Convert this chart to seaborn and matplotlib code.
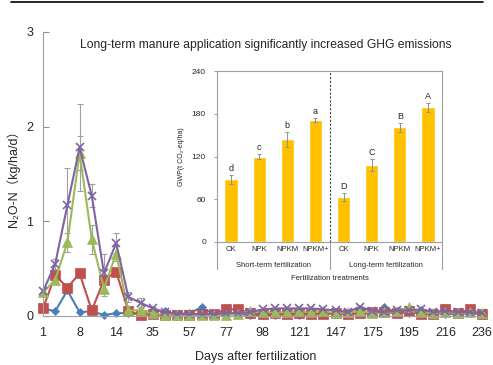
import matplotlib
matplotlib.use("Agg")
import matplotlib.pyplot as plt
import seaborn as sns
import pandas as pd
from matplotlib.lines import Line2D

# ---- main panel data (N2O-N flux, kg/ha/d) ----
day_ticks = [1, 8, 14, 35, 57, 77, 98, 121, 147, 175, 195, 216, 236]

ck = [0.08, 0.05, 0.27, 0.04, 0.05, 0.01, 0.03, 0.03, 0.02, 0.06, 0.05, 0.02, 0.03,
      0.09, 0.02, 0.02, 0.02, 0.01, 0.01, 0.01, 0.02, 0.01, 0.02, 0.02, 0.03, 0.02,
      0.03, 0.02, 0.09, 0.04, 0.03, 0.06, 0.03, 0.02, 0.02, 0.03, 0.02]
npk = [0.08, 0.43, 0.30, 0.45, 0.06, 0.38, 0.47, 0.05, 0.01, 0.02, 0.01, 0.01, 0.01,
       0.02, 0.02, 0.07, 0.07, 0.03, 0.02, 0.03, 0.02, 0.03, 0.02, 0.02, 0.03, 0.02,
       0.03, 0.04, 0.04, 0.03, 0.05, 0.02, 0.02, 0.07, 0.03, 0.07, 0.02]
npkm = [0.25, 0.38, 0.78, 1.72, 0.81, 0.29, 0.66, 0.06, 0.06, 0.03, 0.01, 0.01, 0.01,
        0.01, 0.01, 0.01, 0.02, 0.05, 0.04, 0.04, 0.04, 0.05, 0.04, 0.05, 0.03, 0.04,
        0.05, 0.03, 0.04, 0.05, 0.09, 0.04, 0.03, 0.04, 0.03, 0.04, 0.03]
npkm_plus = [0.26, 0.55, 1.17, 1.78, 1.27, 0.45, 0.77, 0.20, 0.14, 0.08, 0.04, 0.02, 0.02,
             0.02, 0.02, 0.03, 0.03, 0.04, 0.07, 0.08, 0.08, 0.08, 0.08, 0.07, 0.06, 0.04,
             0.10, 0.05, 0.04, 0.06, 0.06, 0.07, 0.04, 0.05, 0.04, 0.04, 0.03]

# standard errors for the first sampling dates (rest are tiny)
ck_err = [0.01, 0.01, 0.03, 0.01, 0.01, 0.0, 0.0, 0.0, 0.0, 0.0]
npk_err = [0.02, 0.03, 0.04, 0.02, 0.02, 0.03, 0.03, 0.01, 0.0, 0.0]
npkm_err = [0.02, 0.04, 0.1, 0.18, 0.15, 0.08, 0.08, 0.02, 0.02, 0.0]
npkm_plus_err = [0.02, 0.05, 0.39, 0.46, 0.12, 0.2, 0.11, 0.05, 0.05, 0.02]

# ---- inset data (GWP, t CO2-eq/ha) ----
treatments = ["CK", "NPK", "NPKM", "NPKM+", "CK", "NPK", "NPKM", "NPKM+"]
groups = ["Short-term fertilization", "Long-term fertilization"]
gwp = [88, 120, 144, 171, 63, 108, 161, 189]
gwp_err = [6, 4, 10, 3, 6, 8, 6, 6]
letters = ["d", "c", "b", "a", "D", "C", "B", "A"]

sns.set_style("ticks")
plt.rcParams["font.family"] = ["Liberation Sans", "Noto Sans CJK SC", "DejaVu Sans"]

fig = plt.figure(figsize=(4.93, 3.65), dpi=100)
ax = fig.add_axes([43 / 493, 1 - 316 / 365, (482 - 43) / 493, (316 - 32) / 365])

series = [
    (ck, ck_err, "#4a7ebb", "D", 4),
    (npk, npk_err, "#c0504d", "s", 7),
    (npkm, npkm_err, "#9bbb59", "^", 7),
    (npkm_plus, npkm_plus_err, "#8064a2", "x", 6),
]
idx = list(range(len(ck)))
for vals, err, col, mk, ms in series:
    ax.errorbar(idx[:len(err)], vals[:len(err)], yerr=err, fmt="none",
                ecolor="#a0a0a0", elinewidth=0.8, capsize=2, capthick=0.8, zorder=1)
    sns.lineplot(x=idx, y=vals, ax=ax, color=col, marker=mk, markersize=ms,
                 markeredgecolor=col, markeredgewidth=1.2 if mk == "x" else 0.5,
                 linewidth=1.5, clip_on=False, zorder=2)

ax.set_xlim(0, 36)
ax.set_ylim(0, 3)
ax.set_yticks([0, 1, 2, 3])
ax.set_xticks(list(range(0, 37, 3)))
ax.set_xticklabels([str(d) for d in day_ticks], fontsize=9)
ax.tick_params(axis="y", direction="in", length=4, color="#909090", pad=7, labelsize=9)
ax.tick_params(axis="x", length=0, pad=8)
for s in ["top", "right"]:
    ax.spines[s].set_visible(False)
for s in ["left", "bottom"]:
    ax.spines[s].set_color("#a0a0a0")
ax.set_xlabel("")
ax.set_ylabel("")

fig.text(0.026, 0.52, "N₂O-N（kg/ha/d）", rotation=90, ha="center", va="center",
         fontsize=9)
fig.text(256 / 493, 2 / 365, "Days after fertilization", ha="center", va="bottom",
         fontsize=9)
fig.text(266 / 493, 1 - 45 / 365,
         "Long-term manure application significantly increased GHG emissions",
         ha="center", va="center", fontsize=8.7)

# top rule
fig.add_artist(Line2D([11 / 493, 483 / 493], [1 - 2 / 365, 1 - 2 / 365],
                      color="black", linewidth=1.2))

# ---- inset bar chart ----
ins = fig.add_axes([217 / 493, 1 - 242 / 365, 225 / 493, 171 / 365])
ins.set_facecolor("white")
keys = [f"{i}" for i in range(len(gwp))]
bar_df = pd.DataFrame({"key": keys, "gwp": gwp})
sns.barplot(data=bar_df, x="key", y="gwp", ax=ins, color="#ffc000", width=0.47,
            saturation=1, errorbar=None)
ins.errorbar(range(len(gwp)), gwp, yerr=gwp_err, fmt="none", ecolor="#909090",
             elinewidth=0.7, capsize=1.5, capthick=0.7)
for i, (v, e, t) in enumerate(zip(gwp, gwp_err, letters)):
    ins.text(i, v + e + 3, t, ha="center", va="bottom", fontsize=6.5)

ins.set_xlim(-0.5, 7.5)
ins.set_ylim(0, 240)
ins.set_yticks([0, 60, 120, 180, 240])
ins.tick_params(axis="y", labelsize=6, length=2, color="#a0a0a0", pad=6)
ins.set_xticks(range(len(gwp)))
ins.set_xticklabels(treatments, fontsize=5.5)
ins.tick_params(axis="x", length=0, pad=3)
for s in ins.spines.values():
    s.set_color("#a0a0a0")
    s.set_linewidth(0.8)
ins.set_xlabel("")
ins.set_ylabel("GWP(t CO₂-eq/ha)", fontsize=5, labelpad=5)
ins.axvline(3.5, color="#404040", linestyle=(0, (2, 1.5)), linewidth=0.8)
for xf in [0, 0.5, 1]:
    ins.plot([xf, xf], [0, -0.16], transform=ins.transAxes, color="#a0a0a0",
             linewidth=0.8, clip_on=False)
ins.text(0.25, -0.135, groups[0], transform=ins.transAxes, ha="center",
         va="center", fontsize=5.5)
ins.text(0.75, -0.135, groups[1], transform=ins.transAxes, ha="center",
         va="center", fontsize=5.5)
ins.text(0.5, -0.215, "Fertilization treatments", transform=ins.transAxes,
         ha="center", va="center", fontsize=5.5)

fig.savefig("out.png", dpi=100)
